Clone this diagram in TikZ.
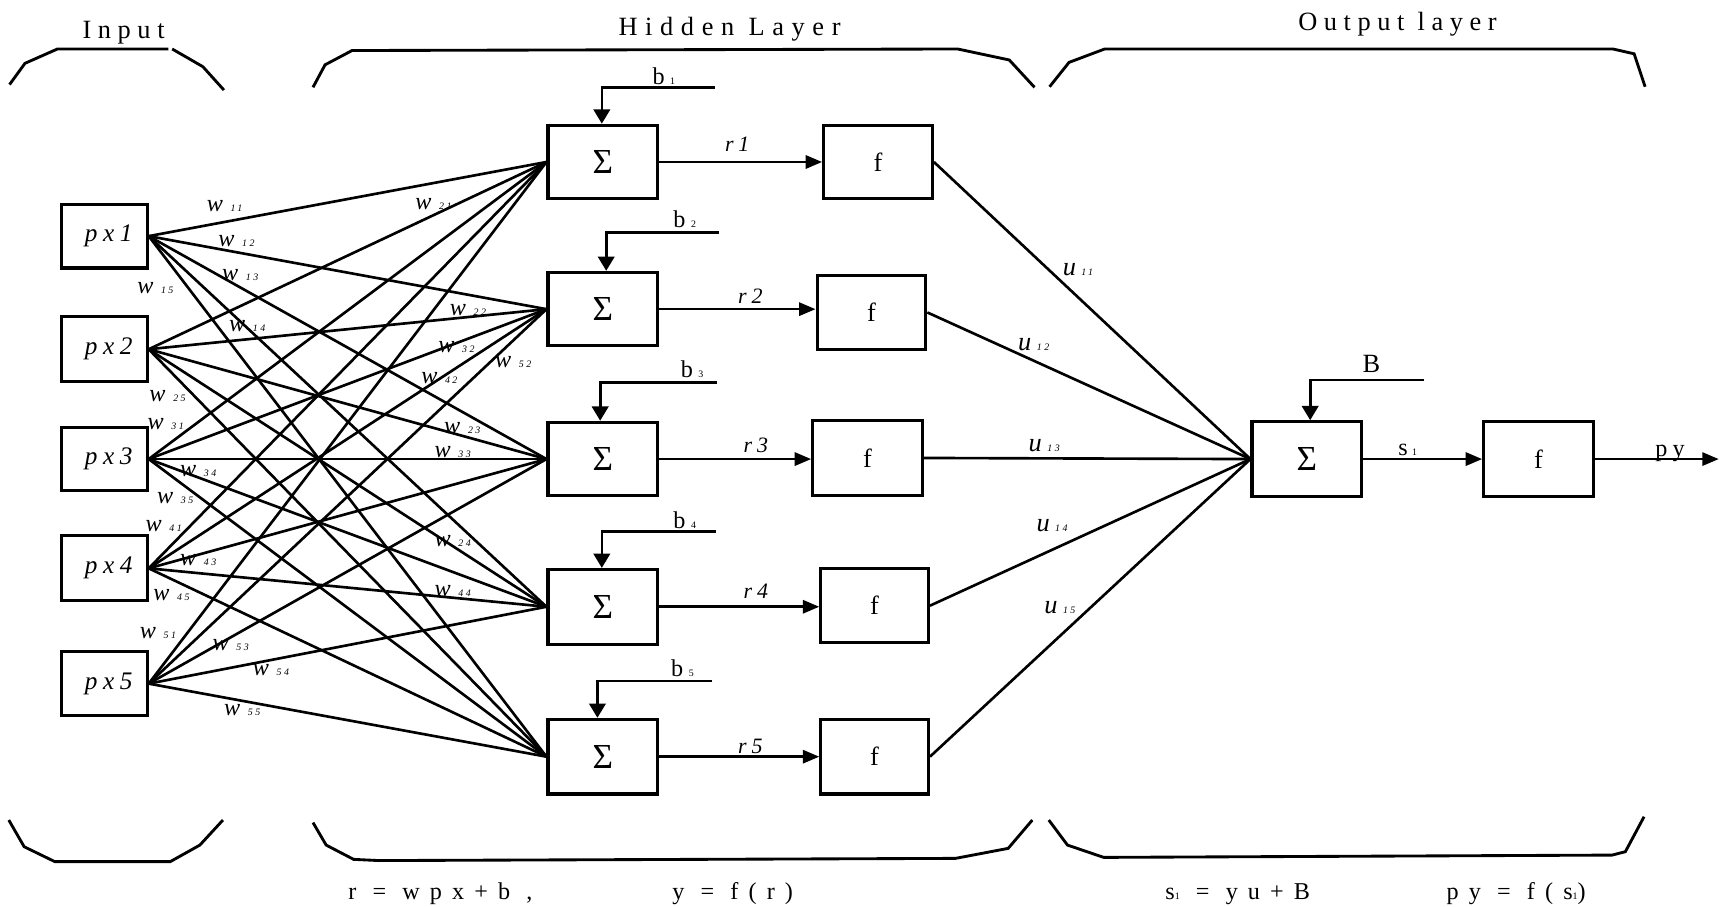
\documentclass[tikz,border=0pt]{standalone}
\usepackage{fontspec}
\setmainfont{Liberation Serif}
\newfontfamily\spc{Liberation Serif}[LetterSpace=25]
\newfontfamily\spch{Liberation Serif}[LetterSpace=29]
\newfontfamily\spcf{Liberation Serif}[LetterSpace=42]
\newfontfamily\spcs{Liberation Serif}[LetterSpace=22]
\usetikzlibrary{arrows.meta}
\newcommand\fs[1]{\fontsize{#1}{#1}\selectfont}
\newcommand\wlab[1]{{\fs{22}\itshape w}\hspace{7pt}{\fs{9}\spc\itshape #1}}
\newcommand\ulab[1]{{\fs{24}\itshape u}\hspace{5pt}{\fs{9}\spc\itshape #1}}
\newcommand\blab[1]{{\fs{22}b}\hspace{5pt}{\fs{9}#1}}
\begin{document}
\begin{tikzpicture}[x=1pt,y=-1pt,
  box/.style={draw, line width=2.8pt, inner sep=0pt},
  wire/.style={line width=2.4pt},
  brc/.style={line width=2.6pt},
  arr/.style={-{Triangle[length=15pt,width=12pt]}},
  barr/.style={-{Triangle[length=13pt,width=15pt]}},
  lbl/.style={anchor=base west, inner sep=0pt}]
\useasboundingbox (0,0) rectangle (1568,825);

% titles
\node[lbl] (tin) at (75,35) {\fs{24}\spc Input};
\node[lbl] (thid) at (563,32.5) {\fs{24}\spch Hidden Layer};
\node[lbl] (tout) at (1182,27.5) {\fs{24}\spc Output layer};

% braces top
\draw[brc] (8.7,77) -- (22.7,57.7) -- (52.3,44.6) -- (153.3,44.6);
\draw[brc] (156.8,44.6) -- (184.7,60.7) -- (203.9,82);
\draw[brc] (285,79.5) -- (296,59) -- (320.6,46) -- (872,44.6) -- (919,54.6) -- (942,79.5);
\draw[brc] (955.7,79) -- (973.4,56.8) -- (1005.9,44.6) -- (1468.7,44.6) -- (1488,49) -- (1498,79);
% braces bottom
\draw[brc] (8,746.7) -- (22,771) -- (50,784.6) -- (155,784.6) -- (182,769.5) -- (203,746.7);
\draw[brc] (285,749) -- (297,769.5) -- (322,782.5) -- (345,783.6) -- (870,781.6) -- (918,772.5) -- (940,746.7);
\draw[brc] (955,746.7) -- (972,769.5) -- (1005,780.7) -- (1468,778.6) -- (1480,775.5) -- (1497,743.7);

% input boxes
\node[box, minimum width=78pt, minimum height=58pt] (p1) at (95,215) {\hspace{8pt}\fs{23}\spcs\itshape px1};
\node[box, minimum width=78pt, minimum height=59pt] (p2) at (95,318) {\hspace{8pt}\fs{23}\spcs\itshape px2};
\node[box, minimum width=78pt, minimum height=58pt] (p3) at (95,418) {\hspace{8pt}\fs{23}\spcs\itshape px3};
\node[box, minimum width=78pt, minimum height=59pt] (p4) at (95,517.5) {\hspace{8pt}\fs{23}\spcs\itshape px4};
\node[box, minimum width=78pt, minimum height=58pt] (p5) at (95,622.5) {\hspace{8pt}\fs{23}\spcs\itshape px5};

% hidden sum boxes
\node[box, minimum width=100pt, minimum height=67pt] (s1) at (549,147.5) {\fs{32}Σ};
\node[box, minimum width=100pt, minimum height=67pt] (s2) at (549,281.5) {\fs{32}Σ};
\node[box, minimum width=100pt, minimum height=67pt] (s3) at (549,418) {\fs{32}Σ};
\node[box, minimum width=100pt, minimum height=68pt] (s4) at (549,552.5) {\fs{32}Σ};
\node[box, minimum width=100pt, minimum height=68pt] (s5) at (549,689) {\fs{32}Σ};

% hidden f boxes
\node[box, minimum width=99pt, minimum height=67pt] (f1) at (799.5,147.5) {\fs{24}f};
\node[box, minimum width=99pt, minimum height=67pt] (f2) at (793.5,284.5) {\fs{24}f};
\node[box, minimum width=100pt, minimum height=68pt] (f3) at (790,417) {\fs{24}f};
\node[box, minimum width=98pt, minimum height=67pt] (f4) at (796.4,551.5) {\fs{24}f};
\node[box, minimum width=98pt, minimum height=68pt] (f5) at (796.4,689) {\fs{24}f};

% output boxes
\node[box, minimum width=100pt, minimum height=68pt] (os) at (1190,418) {\fs{32}Σ};
\node[box, minimum width=100pt, minimum height=68pt] (of) at (1401,418) {\fs{24}f};

% weight wires
\foreach \i in {1,...,5}
  \foreach \j in {1,...,5}
    \draw[wire] (p\i.east) -- (s\j.west);

% r arrows
\foreach \i in {1,...,5}
  \draw[wire,arr] (s\i.east) -- (s\i.east -| f\i.west);

% u wires
\foreach \i in {1,...,5}
  \draw[wire] (f\i.east) -- (os.west);

% bias inputs
\coordinate (b1e) at (651,79.5);   \coordinate (b1c) at (548,79.5);
\coordinate (b2e) at (655,211.5);  \coordinate (b2c) at (552,211.5);
\coordinate (b3e) at (653,348);    \coordinate (b3c) at (546.5,348);
\coordinate (b4e) at (652,484);    \coordinate (b4c) at (548,484);
\coordinate (b5e) at (648.6,620);  \coordinate (b5c) at (544,620);
\foreach \i in {1,...,5}
  \draw[wire,barr] (b\i e) -- (b\i c) -- (b\i c |- s\i.north);
\coordinate (Be) at (1297,346); \coordinate (Bc) at (1193,346);
\draw[wire,barr] (Be) -- (Bc) -- (Bc |- os.north);

% output arrows
\coordinate (pyend) at (1565,418);
\draw[wire,arr] (os.east) -- (os.east -| of.west);
\draw[wire,arr] (of.east) -- (pyend);

% bias labels
\node[lbl] (lb1) at (594,77) {\blab{1}};
\node[lbl] (lb2) at (613,207.3) {\blab{2}};
\node[lbl] (lb3) at (619.8,343.9) {\blab{3}};
\node[lbl] (lb4) at (613,481) {\blab{4}};
\node[lbl] (lb5) at (611,616.2) {\blab{5}};
\node[lbl] (lB) at (1240.6,339.4) {\fs{24}B};

% r labels
\node[lbl] (lr1) at (660,138) {\fs{20}\spcs\itshape r1};
\node[lbl] (lr2) at (672,276.8) {\fs{20}\spcs\itshape r2};
\node[lbl] (lr3) at (677,412) {\fs{20}\spcs\itshape r3};
\node[lbl] (lr4) at (677,544.8) {\fs{20}\spcs\itshape r4};
\node[lbl] (lr5) at (672,686) {\fs{20}\spcs\itshape r5};

% output labels
\node[lbl] (ls1) at (1273,415.2) {{\fs{22}s}\hspace{4pt}{\fs{9}1}};
\node[lbl] (lpy) at (1507,415.7) {\fs{22}\spcs py};

% u labels
\node[lbl] (u11) at (967.5,251.3) {\ulab{11}};
\node[lbl] (u12) at (926.9,318.7) {\ulab{12}};
\node[lbl] (u13) at (936.5,410.7) {\ulab{13}};
\node[lbl] (u14) at (943.6,484.1) {\ulab{14}};
\node[lbl] (u15) at (950.8,558.5) {\ulab{15}};

% weight labels
\foreach \n/\x/\y in {11/188.2/192.7, 21/378/191.2, 12/198.6/224.6, 13/202/255,
  15/124.8/267.1, 14/208.4/302, 22/409.5/287.7, 32/399/321.1, 52/450.6/334.5,
  42/383.4/349.6, 25/135.9/365.7, 31/134.2/391, 23/404.3/394.6, 33/395.5/416.5,
  34/163.8/434.1, 35/142.9/458.4, 41/132.4/484.2, 24/395.5/497.8, 43/163.8/514.5,
  45/139.4/546.4, 44/395.5/543.4, 51/127.2/581.3, 53/193.4/591.9, 54/230/614.7,
  55/203.9/651.1}
  \node[lbl] (w\n) at (\x,\y) {\wlab{\n}};

% formulas
\node[lbl] (eq1) at (317,819) {\fs{22}\spcf r = wpx+b ,};
\node[lbl] (eq2) at (612,819) {\fs{22}\spcf y = f(r)};
\node[lbl] (eq3) at (1061,819) {\fs{22}\spcf s{\fs{9}1} = yu+B};
\node[lbl] (eq4) at (1317,819) {\fs{22}\spcf py = f(s{\fs{9}1})};
\end{tikzpicture}
\end{document}
